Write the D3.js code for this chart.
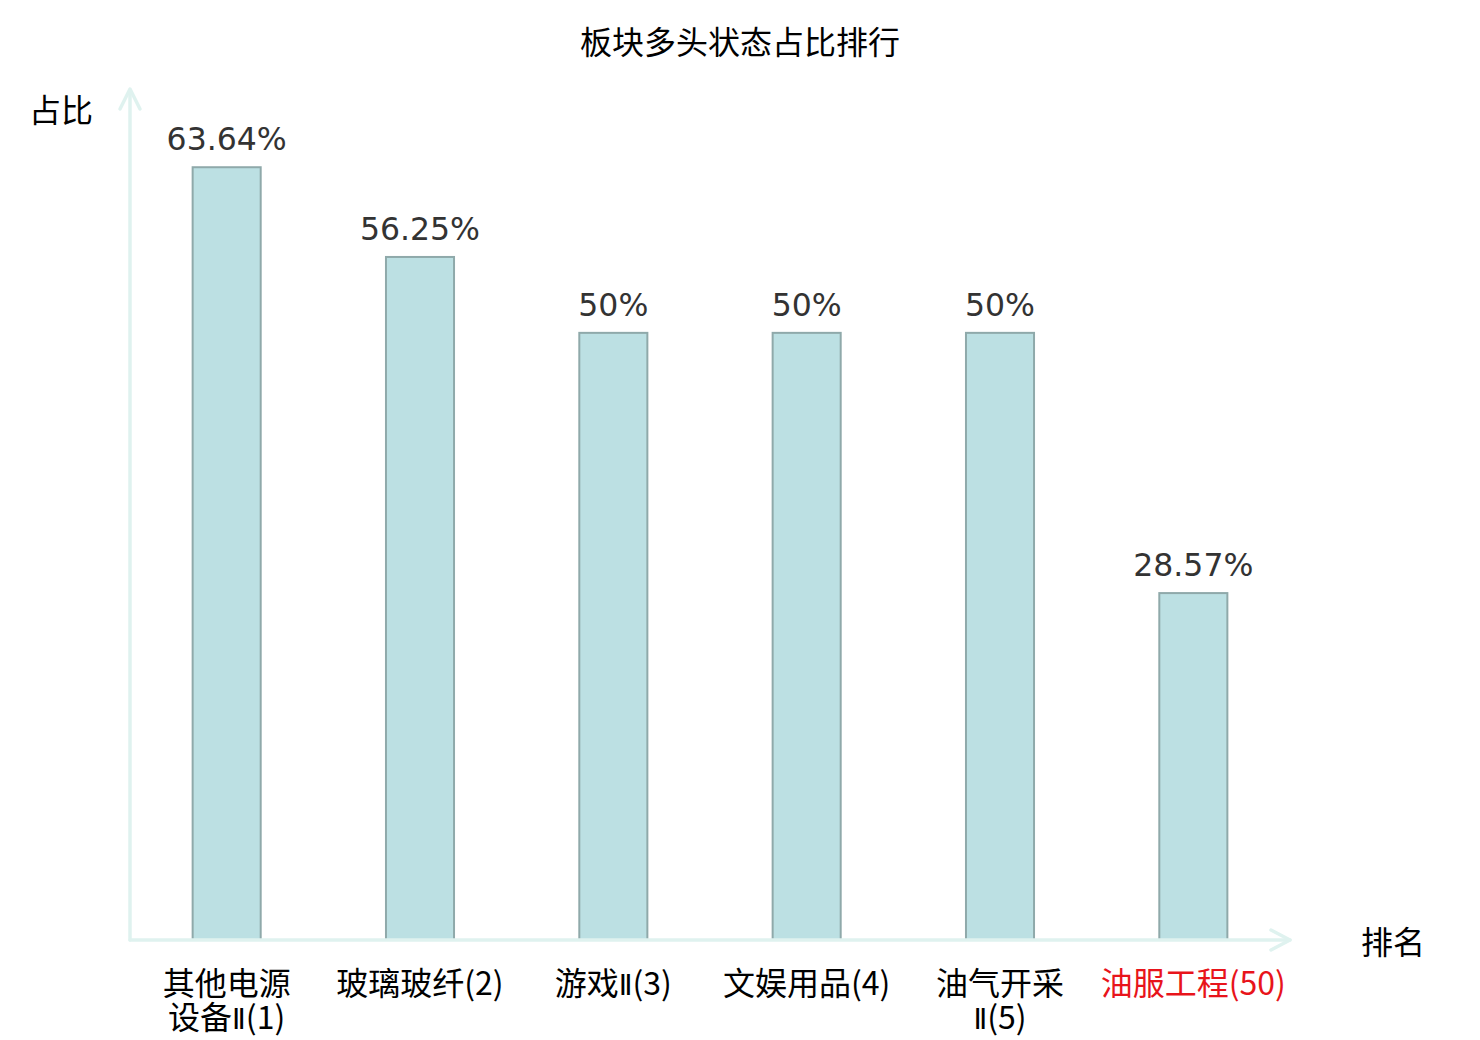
<!DOCTYPE html>
<html>
<head>
<meta charset="utf-8">
<script src="https://cdn.jsdelivr.net/npm/d3@7"></script>
<style>
html,body{margin:0;padding:0;background:#fff;}
svg{display:block;}
</style>
</head>
<body>
<svg id="chart" width="1480" height="1040"></svg>
<script>
const title = "板块多头状态占比排行";
const categories = ["其他电源设备Ⅱ", "玻璃玻纤", "游戏Ⅱ", "文娱用品", "油气开采Ⅱ", "油服工程"];
const ranks = [1, 2, 3, 4, 5, 50];
const values = [63.64, 56.25, 50, 50, 50, 28.57];
const valueLabels = ["63.64%", "56.25%", "50%", "50%", "50%", "28.57%"];
const yAxisName = "占比";
const xAxisName = "排名";
const highlightRank = 50;

(function () {
const svg = d3.select("#chart");
const mLeft = 130, mRight = 1290, mTop = 90, mBottom = 940;
const cjk = "'Noto Sans CJK SC','Noto Sans CJK JP',sans-serif";
const num = "'DejaVu Sans','Noto Sans CJK SC',sans-serif";

const x = d3.scaleBand().domain(d3.range(categories.length)).range([mLeft, mRight]).paddingInner(0.648).paddingOuter(0.324);
const y = d3.scaleLinear().domain([0, 70]).range([mBottom, mTop]);

// title
svg.append("text").attr("x", 740).attr("y", 54).attr("text-anchor", "middle")
  .attr("font-family", cjk).attr("font-size", 32).attr("fill", "#000").text(title);

// bars
svg.append("g").selectAll("rect").data(values).join("rect")
  .attr("x", (d, i) => x(i)).attr("y", d => y(d))
  .attr("width", x.bandwidth()).attr("height", d => mBottom - y(d))
  .attr("fill", "#bce0e3").attr("stroke", "#8fa9aa").attr("stroke-width", 2);

// value labels
svg.append("g").selectAll("text").data(values).join("text")
  .attr("x", (d, i) => x(i) + x.bandwidth() / 2).attr("y", d => y(d) - 17)
  .attr("text-anchor", "middle").attr("font-family", num).attr("font-size", 31.5)
  .attr("fill", "#333").text((d, i) => valueLabels[i]);

// axes with arrows
const axisColor = "#dff2ef";
const ax = svg.append("g").attr("stroke", axisColor).attr("stroke-width", 3.5).attr("fill", "none")
  .attr("stroke-linecap", "round").attr("stroke-linejoin", "round");
ax.append("line").attr("x1", mLeft).attr("y1", mBottom).attr("x2", mLeft).attr("y2", mTop);
ax.append("polyline").attr("points", `${mLeft-10},${mTop+19} ${mLeft},${mTop-1} ${mLeft+10},${mTop+19}`);
ax.append("line").attr("x1", mLeft).attr("y1", mBottom).attr("x2", mRight).attr("y2", mBottom);
ax.append("polyline").attr("points", `${mRight-19},${mBottom-10} ${mRight},${mBottom} ${mRight-19},${mBottom+10}`);

// axis names
svg.append("text").attr("x", 93).attr("y", 122).attr("text-anchor", "end")
  .attr("font-family", cjk).attr("font-size", 32).attr("fill", "#000").text(yAxisName);
svg.append("text").attr("x", 1361).attr("y", 954).attr("text-anchor", "start")
  .attr("font-family", cjk).attr("font-size", 32).attr("fill", "#000").text(xAxisName);

// category labels (wrap name every 4 characters, rank appended to last line)
function wrapLines(name, rank) {
  const chars = Array.from(name);
  const lines = [];
  for (let i = 0; i < chars.length; i += 4) lines.push(chars.slice(i, i + 4).join(""));
  lines[lines.length - 1] += "(" + rank + ")";
  return lines;
}
const xl = svg.append("g");
categories.forEach((c, i) => {
  const lines = wrapLines(c, ranks[i]);
  lines.forEach((ln, j) => {
    const t = xl.append("text").attr("text-anchor", "middle")
      .attr("x", x(i) + x.bandwidth() / 2).attr("y", 995 + j * 34)
      .attr("font-family", cjk).attr("font-size", 32)
      .attr("fill", ranks[i] === highlightRank ? "#e8141b" : "#000");
    // split out the roman numeral so it renders narrow
    ln.split(/(Ⅱ)/).filter(s => s.length).forEach(seg => {
      const sp = t.append("tspan").text(seg);
      if (seg === "Ⅱ") sp.attr("font-family", "'DejaVu Sans'").attr("font-size", 28);
    });
  });
});
})();
</script>
</body>
</html>
